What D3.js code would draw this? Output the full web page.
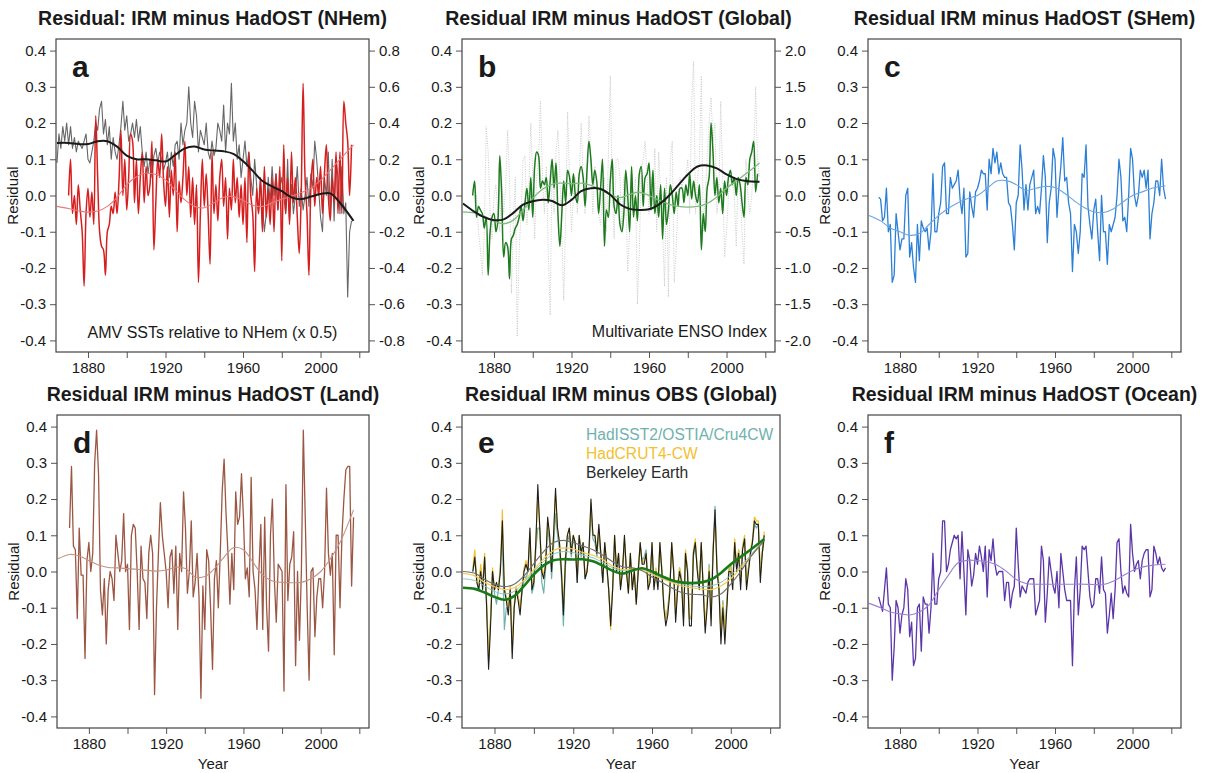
<!DOCTYPE html>
<html>
<head>
<meta charset="utf-8">
<script src="https://cdn.jsdelivr.net/npm/d3@7"></script>
<style>
body { margin: 0; background: #fff; }
text { font-family: "Liberation Sans", Arial, Helvetica, sans-serif; fill: #1a1a1a; }
</style>
</head>
<body>
<div id="chart"></div>
<script>
// ---- data ----
var xTicks = [1880, 1900, 1920, 1940, 1960, 1980, 2000, 2020];
var xLabels = [1880, 1920, 1960, 2000];
var yTicks = [-0.4, -0.3, -0.2, -0.1, 0.0, 0.1, 0.2, 0.3, 0.4];
var amvTicks = [-0.8, -0.6, -0.4, -0.2, 0.0, 0.2, 0.4, 0.6, 0.8];
var ensoTicks = [-2.0, -1.5, -1.0, -0.5, 0.0, 0.5, 1.0, 1.5, 2.0];

// years of the smoothed curves
var knotYears = [1864, 1870, 1875, 1880, 1885, 1890, 1895, 1900, 1905, 1910, 1915, 1920, 1925, 1930, 1935,
  1940, 1945, 1950, 1955, 1960, 1965, 1970, 1975, 1980, 1985, 1990, 1995, 2000, 2005, 2010, 2017];

// a: NHem residual (left axis) from 1864, AMV (right axis) from 1870
var nhemStart = 1864;
var nhemResid = [0.09, 0.17, 0.13, 0.19, 0.15, 0.2,
  0.14, 0.19, 0.13, 0.16, 0.12, 0.15, 0.14, 0.13, 0.15, 0.17,
  0.1, 0.09, 0.12, 0.15, 0.2, 0.18, 0.24, 0.26, 0.17, 0.21,
  0.14, 0.19, 0.1, 0.16, 0.12, 0.1, 0.14, 0.19, 0.26, 0.18,
  0.22, 0.15, 0.17, 0.2, 0.16, 0.21, 0.15, 0.19, 0.12, 0.08,
  0.12, 0.06, 0.1, 0.05, 0.11, 0.13, 0.09, 0.12, 0.1, 0.07,
  0.09, 0.12, 0.05, 0.12, 0.08, 0.14, 0.15, 0.1, 0.2, 0.14,
  0.18, 0.2, 0.3, 0.2, 0.16, 0.26, 0.22, 0.12, 0.18, 0.16,
  0.14, 0.2, 0.12, 0.1, 0.15, 0.11, 0.13, 0.2, 0.18, 0.15,
  0.25, 0.12, 0.2, 0.17, 0.31, 0.15, 0.2, 0.1, 0.14, 0.05,
  0.1, 0.15, 0.08, 0.12, 0.05, 0.0, 0.1, 0.03, -0.05, 0.04,
  -0.02, -0.1, -0.05, 0.05, -0.02, 0.08, 0.0, 0.06, -0.04, 0.02,
  0.05, 0.0, -0.05, 0.1, -0.07, 0.03, -0.05, 0.0, 0.08, -0.03,
  0.02, -0.04, 0.0, 0.05, -0.03, 0.06, 0.02, 0.15, 0.1, 0.02,
  -0.06, -0.1, 0.05, 0.0, 0.12, -0.05, 0.1, -0.07, 0.1, 0.05,
  -0.05, 0.08, -0.05, -0.02, -0.28, -0.1, -0.07];
var amvStart = 1870;
var amv = [0.0, 0.2, -0.1, 0.0, -0.16, 0.06, -0.08, -0.2, -0.5, -0.1,
  0.04, -0.12, 0.02, -0.16, 0.44, 0.1, -0.2, -0.28, -0.3, -0.44,
  -0.2, -0.16, -0.06, -0.1, 0.02, -0.1, 0.08, 0.36, 0.0, 0.2,
  -0.08, 0.1, 0.34, 0.3, -0.04, 0.2, -0.1, 0.1, 0.24, -0.04,
  0.16, 0.0, 0.06, 0.3, -0.3, -0.04, 0.2, 0.1, 0.34, 0.08,
  -0.06, 0.16, -0.12, 0.14, 0.0, 0.24, -0.2, 0.08, -0.04, 0.1,
  0.3, 0.0, 0.16, -0.12, 0.1, -0.16, 0.06, -0.48, -0.1, 0.2,
  -0.06, 0.12, -0.1, -0.38, 0.24, -0.1, 0.06, -0.14, 0.1, 0.2,
  -0.06, 0.1, -0.24, 0.04, -0.08, 0.2, -0.04, 0.1, -0.12, 0.06,
  -0.16, 0.1, -0.26, 0.24, 0.0, -0.1, -0.42, 0.04, -0.1, 0.1,
  -0.2, 0.16, -0.12, 0.04, -0.16, 0.1, -0.2, 0.12, -0.08, 0.16,
  -0.36, 0.28, -0.1, 0.1, -0.16, 0.24, -0.04, 0.1, -0.12, -0.32,
  0.0, 0.62, 0.1, -0.1, -0.44, 0.04, 0.2, -0.06, 0.1, 0.0,
  0.16, -0.1, 0.12, 0.28, 0.0, -0.14, 0.1, -0.04, 0.24, -0.1,
  0.24, -0.1, 0.52, 0.4, 0.3, 0.0, 0.28];
var smNHem = [0.145, 0.145, 0.142, 0.142, 0.15, 0.15, 0.135, 0.11, 0.1, 0.1, 0.097, 0.094, 0.112, 0.13, 0.135,
  0.127, 0.124, 0.122, 0.115, 0.095, 0.068, 0.04, 0.025, 0.012, -0.005, -0.01, -0.003, 0.004, 0.006, -0.02, -0.07];
var smAmv = [-0.06, -0.072, -0.084, -0.092, -0.086, -0.06, -0.01, 0.06, 0.104, 0.124, 0.116, 0.086, 0.03, -0.024, -0.06,
  -0.068, -0.04, -0.01, -0.006, -0.026, -0.054, -0.06, -0.04, -0.02, -0.004, 0.016, 0.04, 0.084, 0.14, 0.2, 0.28];

// b: global residual from 1869, MEI (right axis) from 1871
var globalStart = 1869;
var globalResid = [0.0,
  0.04, -0.06, -0.03, -0.04, -0.05, -0.09, -0.06, -0.22, -0.1, -0.06,
  -0.05, -0.1, -0.07, 0.11, 0.0, -0.17, -0.13, -0.14, -0.23, -0.12,
  -0.11, -0.09, -0.08, -0.06, -0.03, -0.07, -0.02, 0.02, -0.04, 0.05,
  -0.06, 0.08, 0.12, 0.11, 0.02, 0.04, 0.03, 0.05, -0.02, 0.04,
  0.1, 0.02, 0.09, -0.05, -0.14, -0.05, 0.04, -0.02, 0.07, 0.05,
  0.0, 0.06, 0.0, -0.02, 0.06, 0.08, 0.05, -0.03, 0.07, 0.15,
  0.1, 0.03, 0.07, 0.04, -0.05, 0.02, 0.1, -0.14, -0.04, -0.06,
  0.04, 0.1, -0.03, -0.05, 0.0, -0.08, -0.1, -0.05, 0.07, 0.0,
  -0.1, 0.08, -0.06, 0.0, -0.07, 0.06, 0.08, -0.03, 0.05, 0.06,
  0.09, -0.04, 0.07, -0.05, 0.0, -0.06, 0.03, -0.12, 0.02, -0.08,
  -0.04, 0.03, 0.0, -0.05, 0.01, -0.03, 0.02, 0.02, -0.02, 0.03,
  0.0, 0.06, -0.01, 0.04, 0.0, -0.02, 0.03, -0.15, -0.05, -0.1,
  0.02, 0.05, 0.2, 0.12, 0.0, 0.05, -0.02, 0.02, -0.05, 0.04,
  0.0, 0.05, 0.07, 0.03, 0.05, 0.0, 0.05, 0.03, -0.02, -0.06,
  0.05, 0.03, 0.1, 0.12, 0.15, 0.01, 0.06];
var ensoStart = 1871;
var enso = [0.0, -0.5, -0.75, -1.1, -0.5, 0.95, 0.6, -0.25, -0.6,
  0.0, 0.15, -0.25, -0.5, 0.25, -0.25, 0.1, 0.9, 0.25, -1.35,
  -0.4, 0.25, -1.95, -0.75, -0.25, 0.5, 0.55, -0.4, 0.1, 1.0,
  0.25, -0.6, 0.25, 0.5, 1.3, 0.25, -0.25, 0.4, -0.75, -1.65,
  0.5, -0.25, 0.6, 0.9, 0.25, -0.5, -1.45, -0.25, 1.15, 0.25,
  -0.5, 0.0, 0.25, -0.25, 0.25, 1.0, 0.25, -0.25, 0.25, 1.1,
  0.5, -0.25, 0.4, 0.25, -0.25, -0.4, 0.0, 0.25, -0.5, 0.5,
  1.65, 0.1, -0.6, 0.5, 0.5, 0.25, -0.5, 0.25, 0.0, -1.05,
  -0.5, 0.25, 0.0, 0.25, -1.5, -0.75, 0.35, 0.5, 0.75, 0.25,
  -0.25, 0.25, -0.15, 0.65, -0.5, 0.6, 0.0, -0.5, -1.25, 0.25,
  -1.4, 0.5, 0.75, -1.2, -0.75, 0.0, 0.25, 0.1, 0.25, 0.25,
  0.5, -0.25, 1.25, 1.85, -0.25, 0.25, 0.5, 1.65, -0.5, 0.0,
  0.5, 1.0, 1.35, 0.75, 1.0, -0.25, 0.0, 1.3, 0.25, -0.85,
  -0.5, 0.0, 0.25, 0.25, 0.0, -0.7, 0.25, 0.0, -0.5, -0.95,
  0.5, 0.0, -0.25, 0.0, 0.5, 1.5, 0.5, 0.25];
var smEnso = [-0.11, -0.225, -0.3, -0.34, -0.33, -0.24, -0.125, -0.08, -0.06, -0.075, -0.135, -0.06, 0.06, 0.1, 0.09,
  0.01, -0.12, -0.185, -0.2, -0.19, -0.125, -0.01, 0.14, 0.29, 0.4, 0.415, 0.375, 0.29, 0.23, 0.2, 0.19];
var smGlobal = [-0.045, -0.048, -0.058, -0.07, -0.078, -0.068, -0.04, -0.008, 0.017, 0.031, 0.034, 0.033, 0.034, 0.028, 0.016,
  0.002, -0.006, 0.003, 0.009, 0.0, -0.013, -0.024, -0.03, -0.032, -0.03, -0.022, -0.004, 0.02, 0.04, 0.06, 0.09];

// c: SHem residual from 1869
var shemStart = 1869;
var shemResid = [-0.005,
  -0.01, -0.07, -0.06, 0.02, -0.1, -0.08, -0.24, -0.22, -0.05, -0.1,
  -0.15, -0.12, -0.12, 0.0, 0.02, -0.17, -0.13, -0.2, -0.24, -0.08,
  -0.18, -0.07, -0.09, -0.1, -0.09, -0.15, -0.1, 0.06, -0.1, -0.1,
  -0.05, -0.02, 0.08, 0.09, -0.05, -0.05, 0.05, 0.02, 0.03, 0.04,
  0.07, -0.01, -0.05, 0.02, -0.17, -0.16, 0.01, -0.03, -0.06, 0.01,
  0.02, 0.04, 0.07, 0.06, 0.06, -0.04, 0.1, 0.06, 0.13, 0.09,
  0.12, 0.06, 0.09, 0.06, 0.05, 0.05, -0.02, -0.03, -0.08, -0.15,
  -0.02, 0.0, 0.14, 0.07, -0.04, 0.03, -0.04, 0.03, 0.05, 0.07,
  -0.05, -0.03, -0.05, 0.02, 0.11, 0.05, -0.13, -0.02, 0.02, 0.13,
  0.1, -0.06, 0.02, 0.08, 0.16, 0.04, 0.05, -0.02, -0.05, -0.21,
  -0.08, -0.1, -0.16, -0.1, 0.06, 0.05, 0.14, -0.03, -0.08, -0.12,
  -0.04, -0.01, -0.1, -0.18, 0.0, -0.1, -0.1, -0.19, -0.08, -0.1,
  -0.08, -0.06, 0.0, 0.1, 0.05, -0.07, -0.06, -0.1, 0.0, 0.13,
  0.1, 0.0, -0.03, 0.0, 0.07, 0.05, 0.07, 0.02, 0.07, -0.12,
  -0.05, -0.02, 0.04, 0.04, 0.0, 0.1, 0.02, -0.01];
var smSHem = [-0.055, -0.07, -0.09, -0.1, -0.11, -0.105, -0.08, -0.055, -0.035, -0.02, -0.008, 0.0, 0.02, 0.04, 0.041,
  0.03, 0.014, 0.02, 0.025, 0.022, 0.006, -0.015, -0.033, -0.045, -0.047, -0.037, -0.018, 0.0, 0.01, 0.02, 0.027];

// d: land residual from 1870
var landStart = 1870;
var landResid = [0.12, 0.29, 0.07, 0.06, -0.13, 0.12, -0.01, -0.01, -0.24, 0.03,
  0.08, 0.0, 0.05, 0.3, 0.39, 0.27, -0.05, -0.12, -0.02, -0.2,
  -0.05, 0.0, -0.02, -0.08, 0.1, 0.05, 0.0, 0.03, 0.16, 0.0,
  0.02, -0.16, 0.1, 0.13, 0.12, 0.0, -0.16, 0.07, -0.02, -0.03,
  -0.13, 0.05, 0.1, 0.05, -0.34, -0.1, 0.05, 0.19, 0.1, 0.05,
  0.0, -0.1, 0.04, 0.06, -0.06, 0.07, -0.16, 0.05, 0.0, 0.22,
  0.12, -0.06, 0.0, 0.14, -0.07, -0.03, 0.05, -0.07, -0.35, -0.04,
  -0.16, 0.06, 0.03, -0.1, -0.27, -0.02, 0.03, -0.1, 0.05, 0.22,
  0.31, 0.16, 0.05, -0.09, 0.05, -0.05, 0.22, 0.13, 0.15, 0.27,
  0.15, -0.02, 0.01, -0.07, 0.26, 0.0, -0.05, -0.16, 0.0, 0.13,
  -0.16, 0.15, -0.1, -0.22, 0.1, 0.2, -0.02, -0.14, 0.02, 0.01,
  0.0, -0.33, 0.24, -0.08, 0.02, 0.04, 0.11, -0.26, 0.0, -0.19,
  0.0, 0.39, 0.15, -0.1, -0.3, 0.0, 0.01, -0.18, -0.07, -0.02,
  -0.02, -0.1, 0.0, 0.23, 0.05, -0.01, 0.05, -0.23, 0.1, 0.1,
  -0.1, 0.1, 0.2, 0.28, 0.29, 0.29, -0.04, 0.15];
var smLand = [0.035, 0.047, 0.043, 0.03, 0.018, 0.011, 0.01, 0.008, 0.006, 0.003, 0.001, 0.004, 0.012, 0.008, -0.015,
  -0.014, 0.008, 0.04, 0.066, 0.06, 0.025, -0.01, -0.026, -0.03, -0.031, -0.03, -0.02, 0.0, 0.035, 0.08, 0.17];

// e: residual against three observational datasets, from 1869
var obsStart = 1869;
var obsNames = ["HadISST2/OSTIA/Cru4CW", "HadCRUT4-CW", "Berkeley Earth"];
var hadisstResid = [0.0,
  0.03, -0.02, -0.05, 0.01, -0.04, 0.03, -0.09, -0.25, -0.13, 0.0,
  -0.06, -0.09, -0.05, 0.02, 0.1, -0.16, -0.1, -0.1, -0.06, -0.2,
  -0.1, -0.05, -0.07, -0.1, -0.06, -0.01, -0.02, 0.0, 0.1, -0.06,
  -0.04, 0.06, 0.12, 0.12, -0.03, -0.06, 0.01, 0.12, 0.08, -0.02,
  0.07, 0.16, 0.1, 0.06, -0.02, -0.15, 0.01, 0.08, 0.1, 0.04,
  0.09, 0.07, -0.03, 0.08, 0.04, 0.07, -0.02, 0.0, 0.05, 0.17,
  0.09, 0.08, 0.04, 0.11, 0.04, -0.03, 0.07, 0.01, -0.05, -0.13,
  -0.05, 0.08, 0.0, 0.04, -0.04, 0.0, 0.08, 0.0, -0.05, 0.04,
  -0.04, 0.0, -0.08, 0.0, 0.07, 0.03, 0.04, 0.06, -0.04, -0.02,
  0.07, -0.04, 0.0, -0.04, 0.07, 0.0, -0.09, -0.13, -0.1, -0.05,
  0.07, 0.0, -0.12, -0.04, 0.01, -0.02, -0.13, 0.05, 0.01, -0.13,
  -0.13, 0.04, 0.07, 0.01, -0.04, 0.07, -0.04, -0.15, -0.08, 0.02,
  -0.1, 0.06, 0.18, 0.02, -0.04, -0.17, -0.08, -0.16, -0.08, 0.0,
  0.02, -0.03, 0.08, 0.01, 0.06, -0.03, 0.07, 0.09, -0.03, 0.01,
  0.05, 0.08, 0.13, 0.12, 0.13, 0.0, 0.05, 0.09];
var hadcrutResid = [0.01,
  0.06, -0.02, -0.04, 0.02, -0.04, 0.05, -0.08, -0.24, -0.13, 0.01,
  -0.05, -0.04, -0.05, 0.01, 0.17, -0.04, -0.07, -0.1, -0.04, -0.22,
  -0.09, -0.04, -0.07, -0.1, -0.04, 0.01, 0.03, 0.01, 0.11, -0.04,
  -0.02, 0.08, 0.21, 0.12, 0.01, -0.01, 0.03, 0.14, 0.1, 0.01,
  0.1, 0.21, 0.12, 0.08, 0.01, -0.1, 0.03, 0.1, 0.12, 0.05,
  0.1, 0.08, -0.02, 0.1, 0.05, 0.08, -0.01, 0.01, 0.06, 0.19,
  0.1, 0.1, 0.05, 0.12, 0.05, -0.02, 0.08, 0.02, -0.05, -0.16,
  -0.04, 0.1, 0.01, 0.05, -0.04, 0.01, 0.09, 0.01, -0.06, 0.05,
  -0.05, 0.01, -0.09, 0.01, 0.08, 0.02, 0.03, 0.05, -0.04, -0.02,
  0.08, -0.04, 0.01, -0.04, 0.08, 0.01, -0.09, -0.13, -0.11, -0.05,
  0.08, 0.01, -0.12, -0.04, 0.01, -0.02, -0.13, 0.06, 0.01, -0.13,
  -0.12, 0.06, 0.09, 0.01, -0.04, 0.08, -0.04, -0.15, -0.08, 0.01,
  -0.13, 0.06, 0.15, 0.01, -0.04, -0.18, -0.09, -0.17, -0.09, 0.01,
  0.01, -0.03, 0.09, 0.01, 0.06, -0.03, 0.07, 0.1, -0.04, 0.01,
  0.06, 0.09, 0.15, 0.14, 0.14, -0.01, 0.06, 0.11];
var berkeleyResid = [0.0,
  0.04, -0.03, -0.05, 0.0, -0.05, 0.04, -0.1, -0.27, -0.15, 0.0,
  -0.05, -0.03, -0.05, 0.0, 0.14, -0.05, -0.08, -0.12, -0.05, -0.24,
  -0.1, -0.05, -0.08, -0.12, -0.05, 0.0, 0.02, 0.0, 0.12, -0.05,
  -0.03, 0.08, 0.24, 0.12, 0.0, -0.02, 0.02, 0.15, 0.1, 0.0,
  0.1, 0.23, 0.12, 0.08, 0.0, -0.12, 0.03, 0.1, 0.12, 0.05,
  0.1, 0.08, -0.03, 0.1, 0.05, 0.08, -0.02, 0.0, 0.06, 0.2,
  0.1, 0.1, 0.05, 0.13, 0.05, -0.03, 0.08, 0.02, -0.05, -0.15,
  -0.05, 0.1, 0.0, 0.05, -0.05, 0.0, 0.1, 0.0, -0.06, 0.05,
  -0.05, 0.0, -0.09, 0.0, 0.08, 0.02, 0.02, 0.05, -0.05, -0.03,
  0.08, -0.05, 0.0, -0.05, 0.08, 0.0, -0.1, -0.15, -0.12, -0.06,
  0.08, 0.0, -0.14, -0.05, 0.0, -0.03, -0.15, 0.05, 0.0, -0.15,
  -0.15, 0.05, 0.08, 0.0, -0.05, 0.08, -0.05, -0.17, -0.1, 0.0,
  -0.15, 0.05, 0.17, 0.0, -0.05, -0.2, -0.1, -0.2, -0.1, 0.0,
  0.0, -0.05, 0.08, 0.0, 0.05, -0.05, 0.06, 0.09, -0.05, 0.0,
  0.05, 0.08, 0.14, 0.13, 0.13, -0.03, 0.05, 0.1];
var smHadisst = [-0.02, -0.025, -0.04, -0.055, -0.062, -0.055, -0.03, 0.0, 0.028, 0.048, 0.055, 0.052, 0.045, 0.038, 0.025,
  0.01, 0.002, 0.006, 0.006, -0.006, -0.018, -0.027, -0.035, -0.04, -0.042, -0.04, -0.03, -0.01, 0.015, 0.045, 0.09];
var smHadcrut = [-0.005, -0.012, -0.03, -0.042, -0.05, -0.045, -0.025, 0.005, 0.035, 0.058, 0.065, 0.062, 0.052, 0.045, 0.033,
  0.015, 0.005, 0.007, 0.005, -0.008, -0.02, -0.03, -0.04, -0.045, -0.048, -0.05, -0.04, -0.02, 0.01, 0.04, 0.09];
var smBerkeley = [0.0, -0.005, -0.022, -0.035, -0.042, -0.035, -0.012, 0.022, 0.055, 0.08, 0.086, 0.08, 0.07, 0.06, 0.045,
  0.027, 0.013, 0.01, 0.002, -0.015, -0.03, -0.045, -0.058, -0.063, -0.064, -0.07, -0.062, -0.035, 0.0, 0.04, 0.085];

// f: ocean residual from 1869
var oceanStart = 1869;
var oceanResid = [-0.07,
  -0.09, -0.11, -0.05, 0.01, -0.09, -0.1, -0.3, -0.21, -0.08, -0.1,
  -0.17, -0.12, -0.1, -0.02, -0.05, -0.18, -0.14, -0.26, -0.24, -0.1,
  -0.09, -0.22, -0.07, -0.09, -0.09, -0.17, -0.1, 0.05, -0.09, -0.09,
  -0.02, 0.0, 0.14, 0.14, 0.0, 0.02, 0.06, 0.08, 0.1, 0.09,
  0.1, -0.02, 0.11, 0.0, -0.12, 0.06, 0.03, -0.04, -0.01, 0.05,
  0.02, 0.07, 0.04, 0.0, 0.07, -0.07, 0.06, 0.03, 0.09, 0.02,
  -0.01, 0.0, 0.0, 0.0, -0.08, -0.03, -0.03, -0.1, -0.06, -0.04,
  0.12, 0.02, -0.07, -0.04, -0.05, -0.06, -0.03, -0.02, -0.02, -0.02,
  -0.12, -0.1, -0.08, 0.07, 0.03, -0.14, -0.06, 0.04, 0.0, -0.04,
  -0.06, 0.0, -0.1, 0.05, 0.0, -0.05, -0.08, -0.08, -0.08, -0.26,
  -0.05, 0.04, -0.12, -0.05, 0.07, 0.06, 0.07, 0.0, -0.07, -0.1,
  -0.09, -0.02, -0.02, -0.06, 0.04, -0.05, -0.06, -0.17, -0.12, -0.06,
  -0.13, -0.05, 0.08, 0.09, 0.0, -0.06, -0.04, -0.06, -0.07, 0.13,
  0.05, 0.0, 0.02, 0.03, -0.02, 0.03, 0.05, 0.06, 0.06, -0.07,
  -0.05, 0.07, 0.05, 0.02, 0.04, 0.01, 0.0, 0.01];
var smOcean = [-0.088, -0.1, -0.112, -0.117, -0.12, -0.112, -0.092, -0.05, -0.01, 0.024, 0.031, 0.03, 0.027, 0.018, 0.0,
  -0.022, -0.033, -0.035, -0.035, -0.035, -0.035, -0.035, -0.035, -0.036, -0.036, -0.027, -0.012, 0.003, 0.012, 0.017, 0.02];

// ---- drawing ----
var width = 1210;
var height = 773;
var xDomain = [1863.5, 2025];
var yDomain = [-0.432, 0.432];

var svg = d3.select("#chart").append("svg")
  .attr("width", width)
  .attr("height", height);

function fmt(v) {
  if (Math.abs(v) < 1e-9) v = 0;
  return v.toFixed(1);
}

function series(start, values) {
  return values.map(function (v, i) { return [start + i, v]; });
}

function smooth(values) {
  return values.map(function (v, i) { return [knotYears[i], v]; });
}

function makePanel(id, left, top, w, h, title, letter, bottomRow) {
  var x = d3.scaleLinear().domain(xDomain).range([left, left + w]);
  var y = d3.scaleLinear().domain(yDomain).range([top + h, top]);

  svg.append("clipPath").attr("id", "clip-" + id)
    .append("rect").attr("x", left).attr("y", top).attr("width", w).attr("height", h);

  var yAxis = svg.append("g")
    .attr("transform", "translate(" + left + ",0)")
    .call(d3.axisLeft(y).tickValues(yTicks).tickFormat(fmt).tickSize(6).tickPadding(4));
  styleAxis(yAxis);

  var xAxis = svg.append("g")
    .attr("transform", "translate(0," + (top + h) + ")")
    .call(d3.axisBottom(x).tickValues(xTicks)
      .tickFormat(function (d) { return xLabels.indexOf(d) >= 0 ? d : ""; })
      .tickSize(6).tickPadding(4));
  styleAxis(xAxis);

  var g = svg.append("g").attr("clip-path", "url(#clip-" + id + ")");

  svg.append("rect")
    .attr("x", left).attr("y", top).attr("width", w).attr("height", h)
    .attr("fill", "none").attr("stroke", "#444").attr("stroke-width", 1.2);

  svg.append("text")
    .attr("x", left + w / 2).attr("y", top - 14)
    .attr("text-anchor", "middle")
    .style("font-size", "19.5px").style("font-weight", "bold")
    .text(title);

  svg.append("text")
    .attr("x", left + 16).attr("y", top + 38)
    .style("font-size", "30px").style("font-weight", "bold")
    .text(letter);

  svg.append("text")
    .attr("transform", "translate(" + (left - 38) + "," + (top + h / 2) + ") rotate(-90)")
    .attr("text-anchor", "middle")
    .style("font-size", "15px")
    .text("Residual");

  if (bottomRow) {
    svg.append("text")
      .attr("x", left + w / 2).attr("y", top + h + 41)
      .attr("text-anchor", "middle")
      .style("font-size", "15px")
      .text("Year");
  }

  return { x: x, y: y, g: g, left: left, top: top, w: w, h: h };
}

function styleAxis(axis) {
  axis.select(".domain").remove();
  axis.selectAll(".tick line").attr("stroke", "#555");
  axis.selectAll(".tick text")
    .style("font-size", "15px")
    .style("font-family", "'Liberation Sans', Arial, sans-serif")
    .attr("fill", "#1a1a1a");
}

function drawLine(panel, data, yScale, color, lw, dash, curve) {
  var line = d3.line()
    .x(function (d) { return panel.x(d[0]); })
    .y(function (d) { return yScale(d[1]); })
    .curve(curve || d3.curveLinear);
  var p = panel.g.append("path")
    .datum(data)
    .attr("d", line)
    .attr("fill", "none")
    .attr("stroke", color)
    .attr("stroke-width", lw)
    .attr("stroke-linejoin", "round");
  if (dash) p.attr("stroke-dasharray", dash);
}

var smoothCurve = d3.curveCatmullRom.alpha(0.5);

// panel a
var pa = makePanel("a", 56, 39, 313, 313, "Residual: IRM minus HadOST (NHem)", "a", false);
var yAmv = d3.scaleLinear().domain([yDomain[0] * 2, yDomain[1] * 2]).range([pa.top + pa.h, pa.top]);
var ra = svg.append("g").attr("transform", "translate(" + (pa.left + pa.w) + ",0)")
  .call(d3.axisRight(yAmv).tickValues(amvTicks).tickFormat(fmt).tickSize(6).tickPadding(4));
styleAxis(ra);
drawLine(pa, series(nhemStart, nhemResid), pa.y, "#666666", 1.1);
drawLine(pa, series(amvStart, amv), yAmv, "#d71e1e", 1.5, null, smoothCurve);
drawLine(pa, smooth(smAmv), yAmv, "#e8797a", 1.1, null, smoothCurve);
drawLine(pa, smooth(smNHem), pa.y, "#1a1a1a", 2, null, smoothCurve);
svg.append("text")
  .attr("x", pa.left + pa.w / 2).attr("y", pa.top + pa.h - 14)
  .attr("text-anchor", "middle").style("font-size", "16px")
  .text("AMV SSTs relative to NHem (x 0.5)");

// panel b
var pb = makePanel("b", 462, 39, 313, 313, "Residual IRM minus HadOST (Global)", "b", false);
var yEnso = d3.scaleLinear().domain([yDomain[0] * 5, yDomain[1] * 5]).range([pb.top + pb.h, pb.top]);
var rb = svg.append("g").attr("transform", "translate(" + (pb.left + pb.w) + ",0)")
  .call(d3.axisRight(yEnso).tickValues(ensoTicks).tickFormat(fmt).tickSize(6).tickPadding(4));
styleAxis(rb);
drawLine(pb, series(ensoStart, enso), yEnso, "#c4c4c4", 0.9, "1,1.4");
drawLine(pb, series(globalStart, globalResid), pb.y, "#1d7a1d", 1.5, null, smoothCurve);
drawLine(pb, smooth(smGlobal), pb.y, "#7dbb7d", 1.3, null, smoothCurve);
drawLine(pb, smooth(smEnso), yEnso, "#1a1a1a", 2, null, smoothCurve);
svg.append("text")
  .attr("x", pb.left + pb.w - 8).attr("y", pb.top + pb.h - 15)
  .attr("text-anchor", "end").style("font-size", "16px")
  .text("Multivariate ENSO Index");

// panel c
var pc = makePanel("c", 868, 39, 313, 313, "Residual IRM minus HadOST (SHem)", "c", false);
drawLine(pc, series(shemStart, shemResid), pc.y, "#2b7fd6", 1.3);
drawLine(pc, smooth(smSHem), pc.y, "#6aa6e2", 1.1, null, smoothCurve);

// panel d
var pd = makePanel("d", 57, 415, 312, 313, "Residual IRM minus HadOST (Land)", "d", true);
drawLine(pd, series(landStart, landResid), pd.y, "#9b5744", 1.3);
drawLine(pd, smooth(smLand), pd.y, "#c39384", 1.1, null, smoothCurve);

// panel e
var pe = makePanel("e", 462, 415, 318, 313, "Residual IRM minus OBS (Global)", "e", true);
var obsColors = ["#6fb2ad", "#f2c12e", "#1f1f1f"];
drawLine(pe, series(obsStart, hadisstResid), pe.y, obsColors[0], 1.2);
drawLine(pe, series(obsStart, hadcrutResid), pe.y, obsColors[1], 1.2);
drawLine(pe, series(obsStart, berkeleyResid), pe.y, obsColors[2], 1.1);
drawLine(pe, smooth(smHadisst), pe.y, "#8cc4c0", 1, null, smoothCurve);
drawLine(pe, smooth(smHadcrut), pe.y, "#f4cb5a", 1.2, null, smoothCurve);
drawLine(pe, smooth(smBerkeley), pe.y, "#707070", 1.2, null, smoothCurve);
drawLine(pe, smooth(smGlobal), pe.y, "#187a18", 2.6, null, smoothCurve);
svg.selectAll(".obs-label")
  .data(obsNames)
  .enter().append("text")
  .attr("class", "obs-label")
  .attr("x", pe.left + 124)
  .attr("y", function (d, i) { return pe.top + 25 + i * 19; })
  .style("font-size", "15.6px")
  .style("fill", function (d, i) { return i === 2 ? "#2a2a2a" : obsColors[i]; })
  .text(function (d) { return d; });

// panel f
var pf = makePanel("f", 868, 415, 313, 313, "Residual IRM minus HadOST (Ocean)", "f", true);
drawLine(pf, series(oceanStart, oceanResid), pf.y, "#5b36a8", 1.3);
drawLine(pf, smooth(smOcean), pf.y, "#9a82cc", 1.1, null, smoothCurve);
</script>
</body>
</html>
